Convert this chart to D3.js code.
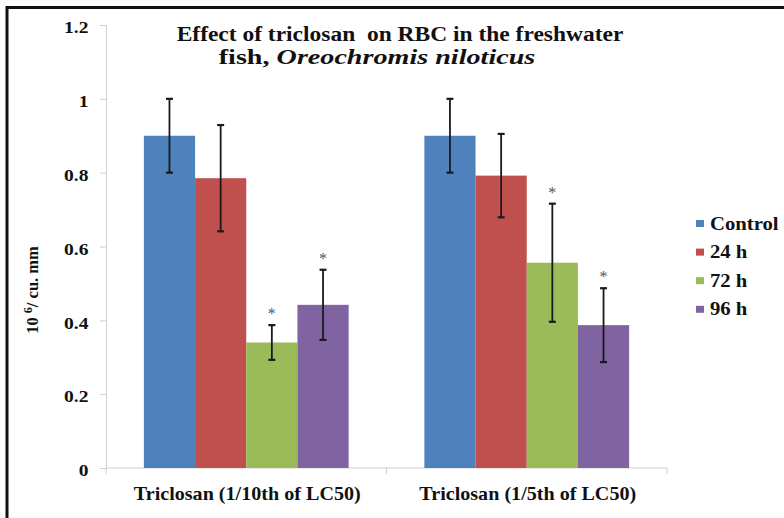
<!DOCTYPE html>
<html lang="en">
<head>
<meta charset="UTF-8" />
<title>Effect of triclosan on RBC</title>
<style>
  body { margin: 0; background: #fff; }
  svg { display: block; }
</style>
</head>
<body>
<div id="chart"></div>
<script src="https://cdn.jsdelivr.net/npm/d3@7"></script>
<script>
  const categories = ["Triclosan (1/10th of LC50)", "Triclosan (1/5th of LC50)"];
  const seriesNames = ["Control", "24 h", "72 h", "96 h"];
  const colors = ["#4f81bd", "#c0504d", "#9bbb59", "#8064a2"];
  // means per category, one entry per series
  const means = [
    [0.90, 0.785, 0.34, 0.442],
    [0.90, 0.792, 0.556, 0.387]
  ];
  const errors = [
    [0.10, 0.144, 0.047, 0.095],
    [0.10, 0.113, 0.160, 0.100]
  ];
  const significant = [
    [false, false, true, true],
    [false, false, true, true]
  ];
  const yTicks = [0, 0.2, 0.4, 0.6, 0.8, 1, 1.2];

  const FONT = "'Liberation Serif', 'Times New Roman', serif";
  const W = 784, H = 518;
  const svg = d3.select("#chart").append("svg").attr("width", W).attr("height", H);

  // the source image is stretched sideways, so text gets widened to the same width
  function stretch(sel, k, ax) {
    sel.attr("transform", `translate(${ax},0) scale(${k},1) translate(${-ax},0)`);
  }
  function fit(sel, target, ax) {
    const w = sel.node().getBBox().width;
    stretch(sel, target / w, ax);
  }
  function serif(sel) {
    return sel.style("font-family", FONT).style("font-weight", "bold").attr("fill", "#111");
  }

  // frame (only top and left visible)
  svg.append("line").attr("x1", 6).attr("x2", W).attr("y1", 7.5).attr("y2", 7.5)
    .attr("stroke", "#111").attr("stroke-width", 3);
  svg.append("line").attr("x1", 7).attr("x2", 7).attr("y1", 6).attr("y2", H)
    .attr("stroke", "#111").attr("stroke-width", 3);

  const x0 = 106, x1 = 667, yTop = 25, yBot = 468;
  const y = d3.scaleLinear().domain([0, 1.2]).range([yBot, yTop]);
  const xc = d3.scaleBand().domain(categories).range([x0, x1]).paddingInner(0.27).paddingOuter(0.135);
  const xs = d3.scaleBand().domain(seriesNames).range([0, xc.bandwidth()]);

  // y axis
  const yAxis = svg.append("g").attr("transform", `translate(${x0},0)`)
    .call(d3.axisLeft(y).tickValues(yTicks).tickSize(6).tickPadding(11.5).tickFormat(d3.format("")));
  yAxis.select(".domain").attr("stroke", "#cfcfcf");
  yAxis.selectAll(".tick line").attr("stroke", "#cfcfcf");
  yAxis.selectAll(".tick text").call(serif).style("font-size", "16px").attr("dy", "0.48em")
    .each(function() { stretch(d3.select(this), 1.22, -17.5); });

  // x axis
  const xAxisG = svg.append("g").attr("transform", `translate(0,${yBot})`);
  xAxisG.append("line").attr("x1", x0).attr("x2", x1).attr("stroke", "#cfcfcf");
  const bounds = [x0, (x0 + x1) / 2, x1];
  xAxisG.selectAll("line.t").data(bounds).join("line").attr("class", "t")
    .attr("x1", d => d).attr("x2", d => d).attr("y1", 0).attr("y2", 6).attr("stroke", "#cfcfcf");
  const catWidth = [227, 217];
  xAxisG.selectAll("text").data(categories).join("text")
    .attr("x", d => xc(d) + xc.bandwidth() / 2 + 1).attr("y", 32)
    .attr("text-anchor", "middle").call(serif).style("font-size", "18px").text(d => d)
    .each(function(d, i) { fit(d3.select(this), catWidth[i], xc(d) + xc.bandwidth() / 2 + 1); });

  // bars
  const groups = svg.selectAll("g.grp").data(categories).join("g").attr("class", "grp")
    .attr("transform", d => `translate(${xc(d)},0)`);

  groups.each(function(cat, ci) {
    const g = d3.select(this);
    seriesNames.forEach((s, si) => {
      const v = means[ci][si], e = errors[ci][si];
      const bx = xs(s), bw = xs.bandwidth(), cx = bx + bw / 2;
      g.append("rect").attr("x", bx).attr("y", y(v)).attr("width", bw).attr("height", y(0) - y(v))
        .attr("fill", colors[si]);
      g.append("line").attr("x1", cx).attr("x2", cx).attr("y1", y(v + e)).attr("y2", y(v - e))
        .attr("stroke", "#1a1a1a").attr("stroke-width", 1.8);
      [v + e, v - e].forEach(t => {
        g.append("line").attr("x1", cx - 3.5).attr("x2", cx + 3.5).attr("y1", y(t)).attr("y2", y(t))
          .attr("stroke", "#1a1a1a").attr("stroke-width", 2.2);
      });
      if (significant[ci][si]) {
        g.append("text").attr("x", cx).attr("y", y(v + e) - 6).attr("text-anchor", "middle")
          .style("font-family", FONT).style("font-size", "16px").attr("fill", "#555").text("*");
      }
    });
  });

  // title
  const t1 = svg.append("text").attr("x", 400).attr("y", 41).attr("text-anchor", "middle")
    .call(serif).style("font-size", "20px").text("Effect of triclosan  on RBC in the freshwater");
  t1.attr("xml:space", "preserve");
  fit(t1, 447, 400);
  const t2 = svg.append("text").attr("x", 377).attr("y", 64).attr("text-anchor", "middle")
    .call(serif).style("font-size", "20px");
  t2.append("tspan").text("fish, ");
  t2.append("tspan").style("font-style", "italic").text("Oreochromis niloticus");
  fit(t2, 317, 377);

  // y label (rotated, so its length runs vertically)
  const yl = svg.append("text").attr("transform", "translate(38,290) rotate(-90)")
    .attr("text-anchor", "middle").call(serif).style("font-size", "16.5px");
  yl.append("tspan").text("10 ");
  yl.append("tspan").style("font-size", "12px").attr("dy", -6).text("6");
  yl.append("tspan").attr("dy", 6).text("/ cu. mm");

  // legend
  const leg = svg.selectAll("g.leg").data(seriesNames).join("g").attr("class", "leg")
    .attr("transform", (d, i) => `translate(696,${223.5 + i * 28.6})`);
  leg.append("rect").attr("x", 0).attr("y", -3.5).attr("width", 8).attr("height", 7)
    .attr("fill", (d, i) => colors[i]);
  leg.append("text").attr("x", 14).attr("y", 6).call(serif).style("font-size", "18px").text(d => d)
    .each(function() { stretch(d3.select(this), 1.15, 14); });
</script>
</body>
</html>
